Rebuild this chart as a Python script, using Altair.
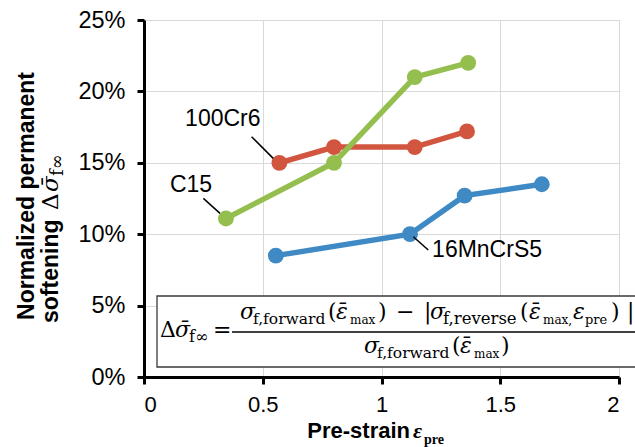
import altair as alt
import pandas as pd

# ---------------- data ----------------
series_names = ["16MnCrS5", "100Cr6", "C15"]
series_colors = ["#3F8AC4", "#D2553F", "#94BF4F"]
prestrain = {
    "16MnCrS5": [0.555, 1.12, 1.35, 1.675],
    "100Cr6": [0.57, 0.80, 1.14, 1.36],
    "C15": [0.345, 0.80, 1.14, 1.365],
}
softening = {
    "16MnCrS5": [0.085, 0.100, 0.127, 0.135],
    "100Cr6": [0.150, 0.161, 0.161, 0.172],
    "C15": [0.111, 0.150, 0.210, 0.220],
}
x_ticks = [0, 0.5, 1, 1.5, 2]
y_ticks = [0, 0.05, 0.10, 0.15, 0.20, 0.25]

label_text = ["100Cr6", "C15", "16MnCrS5"]
label_x = [0.173, 0.109, 1.213]
label_y = [0.1758, 0.1296, 0.084]
leader_x1 = [0.453, 0.250, 1.134]
leader_y1 = [0.1683, 0.1251, 0.0982]
leader_x2 = [0.544, 0.320, 1.197]
leader_y2 = [0.1531, 0.1146, 0.0889]

# ---------------- layout ----------------
X0, Y0 = 144, 20
W, H = 475, 357
SANS = "Liberation Sans"
SERIF = "DejaVu Serif"

xs = alt.Scale(domain=[0, 2], nice=False, zero=False)
ys = alt.Scale(domain=[0, 0.25], nice=False, zero=False)

one = pd.DataFrame({"a": [0]})

axis_common = dict(
    grid=True, gridColor="#d9d9d9", gridWidth=1,
    domainColor="black", domainWidth=3,
    tickColor="black", tickWidth=3, tickSize=7,
    labelFont=SANS, labelColor="black", title=None,
)

axes_df = pd.DataFrame({"x": [0, 2], "y": [0, 0.25]})
axes = alt.Chart(axes_df).mark_point(opacity=0).encode(
    x=alt.X("x:Q", scale=xs, axis=alt.Axis(values=x_ticks, format="~g", labelPadding=10,
                                           labelFontSize=22, **axis_common)),
    y=alt.Y("y:Q", scale=ys, axis=alt.Axis(values=y_ticks, format=".0%", labelPadding=12,
                                           labelFontSize=23.5, **axis_common)),
)

layers = [axes]

for name, col in zip(series_names, series_colors):
    df = pd.DataFrame({"x": prestrain[name], "y": softening[name]})
    base = alt.Chart(df).encode(x=alt.X("x:Q", scale=xs), y=alt.Y("y:Q", scale=ys))
    layers.append(base.mark_line(color=col, strokeWidth=5.5))
    layers.append(base.mark_circle(color=col, size=250, opacity=1))

lead_df = pd.DataFrame({"x": leader_x1, "y": leader_y1, "x2": leader_x2, "y2": leader_y2})
layers.append(alt.Chart(lead_df).mark_rule(color="black", strokeWidth=1.5).encode(
    x=alt.X("x:Q", scale=xs), y=alt.Y("y:Q", scale=ys), x2="x2:Q", y2="y2:Q"))

lab_df = pd.DataFrame({"t": label_text, "x": label_x, "y": label_y})
layers.append(alt.Chart(lab_df).mark_text(font=SANS, fontSize=23, align="left", baseline="alphabetic", color="black").encode(
    x=alt.X("x:Q", scale=xs), y=alt.Y("y:Q", scale=ys), text="t:N"))

# formula box (runs off the right edge, as in the original)
layers.append(alt.Chart(one).mark_rect(fill="white", stroke="#3a3a3a", strokeWidth=1.3).encode(
    x=alt.value(157 - X0), x2=alt.value(640 - X0), y=alt.value(296 - Y0), y2=alt.value(367 - Y0)))
layers.append(alt.Chart(one).mark_rule(color="black", strokeWidth=1.3).encode(
    x=alt.value(232 - X0), x2=alt.value(640 - X0), y=alt.value(332 - Y0)))

# formula segments: text, page x, page baseline y, size, style
M = 22
formula = [
    ("Δ", 160, 337, M, "normal"), ("σ\u0304", 175, 337, M, "italic"), ("f∞", 189, 342, 16, "normal"),
    ("=", 213, 337, M, "normal"),
    ("σ", 240, 319, M, "italic"), ("f,forward", 253, 324, 15.5, "normal"), ("(", 328, 319, M, "normal"),
    ("ε\u0304", 336, 319, M, "italic"), ("max", 350, 324, 12, "normal"), (")", 378, 319, M, "normal"),
    ("−", 396, 319, M, "normal"), ("|", 424, 319, M, "normal"), ("σ", 430, 319, M, "italic"),
    ("f,reverse", 443, 324, 16.5, "normal"), ("(", 520, 319, M, "normal"), ("ε\u0304", 529, 319, M, "italic"),
    ("max,", 543, 324, 12, "normal"), ("ε", 573, 319, M, "italic"), ("pre", 585, 324, 13, "normal"),
    (")", 611, 319, M, "normal"), ("|", 627, 319, M, "normal"),
    ("σ", 364, 353, M, "italic"), ("f,forward", 377, 358, 15.5, "normal"), ("(", 452, 353, M, "normal"),
    ("ε\u0304", 460, 353, M, "italic"), ("max", 474, 358, 12, "normal"), (")", 501, 353, M, "normal"),
]
for t, px, py, fs, st in formula:
    layers.append(alt.Chart(one).mark_text(
        font=SERIF, fontSize=fs, fontStyle=st, align="left", baseline="alphabetic", color="black"
    ).encode(x=alt.value(px - X0), y=alt.value(py - Y0), text=alt.value(t)))

# x-axis title
xt = [
    ("Pre-strain", 410, 438, 22, SANS, "bold", "normal", "right"),
    ("ε", 413, 438, 22, "Liberation Serif", "bold", "italic", "left"),
    ("pre", 424, 444, 14, "Liberation Serif", "bold", "normal", "left"),
]
for t, px, py, fs, fnt, fw, st, al in xt:
    layers.append(alt.Chart(one).mark_text(
        font=fnt, fontSize=fs, fontWeight=fw, fontStyle=st, align=al, baseline="alphabetic", color="black"
    ).encode(x=alt.value(px - X0), y=alt.value(py - Y0), text=alt.value(t)))

# y-axis title (rotated)
yt = [
    ("Normalized permanent", 34, 196, 23, SANS, "bold", "normal", "center"),
    ("softening", 58, 323, 23, SANS, "bold", "normal", "left"),
    ("Δ", 58, 210, 23, SERIF, "normal", "normal", "left"),
    ("σ\u0304", 58, 192, 23, SERIF, "normal", "italic", "left"),
    ("f∞", 63, 176, 18, SERIF, "normal", "normal", "left"),
]
for t, px, py, fs, fnt, fw, st, al in yt:
    layers.append(alt.Chart(one).mark_text(
        font=fnt, fontSize=fs, fontWeight=fw, fontStyle=st, align=al, baseline="alphabetic",
        angle=270, color="black"
    ).encode(x=alt.value(px - X0), y=alt.value(py - Y0), text=alt.value(t)))

chart = alt.layer(*layers).properties(
    width=W, height=H,
    autosize=alt.AutoSizeParams(type="none"),
    padding={"left": X0, "top": Y0, "right": 635 - X0 - W, "bottom": 447 - Y0 - H},
).configure_view(stroke="#262626", strokeWidth=2).configure(background="white")

chart.save("out.html", embed_options={"renderer": "svg", "actions": False})
